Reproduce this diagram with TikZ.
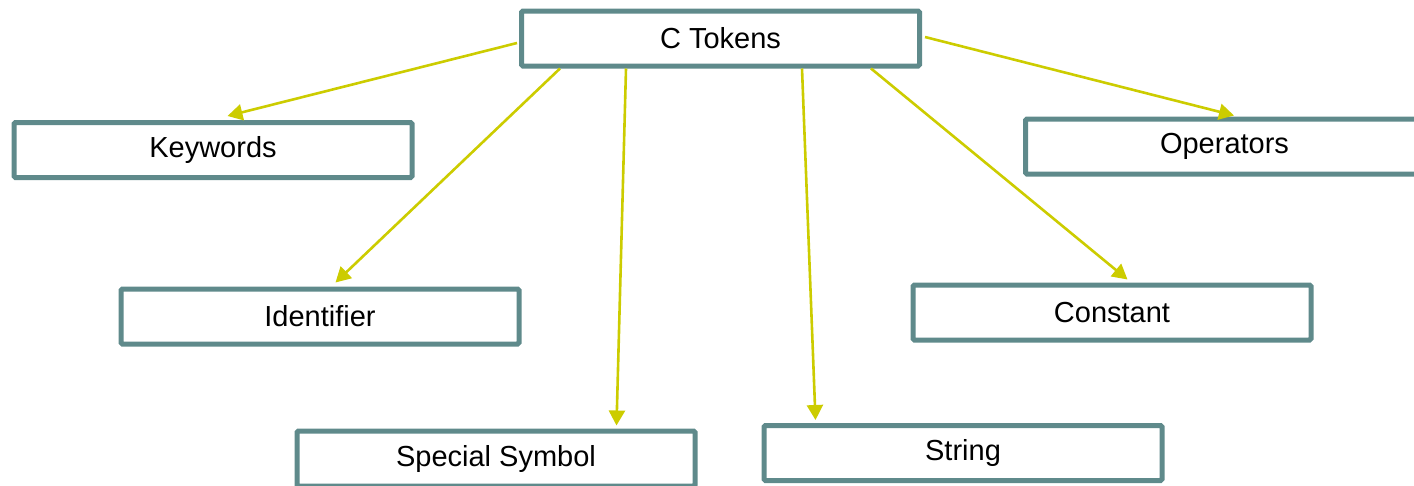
\documentclass[tikz,border=0pt]{standalone}
\usepackage{fontspec}
\setmainfont{Liberation Sans}
\usetikzlibrary{arrows.meta}
\definecolor{boxline}{HTML}{5F8A8B}
\definecolor{arrowcol}{HTML}{CCCC00}
\begin{document}
\begin{tikzpicture}[x=1pt,y=-1pt,
  tokbox/.style={draw=boxline, line width=5pt, fill=white, rounded corners=1.5pt,
    minimum width=398pt, minimum height=55pt, inner sep=0pt,
    font=\fontsize{29}{34}\selectfont},
  conn/.style={draw=arrowcol, line width=2.6pt, -{Triangle[length=15pt,width=16pt]}}]
\useasboundingbox (0,0) rectangle (1414,485);
\clip (0,0) rectangle (1414,485);
\node[tokbox] (ctok) at (720.5,38.5) {C Tokens};
\node[tokbox] (kw) at (213,150) {Keywords};
\node[tokbox] (op) at (1224.5,146.5) {Operators};
\node[tokbox] (id) at (320,316.5) {Identifier};
\node[tokbox] (cn) at (1112,312.5) {Constant};
\node[tokbox] (sp) at (496,458.5) {Special Symbol};
\node[tokbox] (st) at (963,453) {String};
\draw[conn] ([xshift=-2pt,yshift=-4.5pt]ctok.west) -- ([xshift=216pt,yshift=4pt]kw.north west);
\draw[conn] ([xshift=41pt]ctok.south west) -- ([xshift=217pt,yshift=4pt]id.north west);
\draw[conn] ([xshift=107pt]ctok.south west) -- ([xshift=322pt,yshift=3pt]sp.north west);
\draw[conn] ([xshift=283pt]ctok.south west) -- ([xshift=54pt,yshift=3pt]st.north west);
\draw[conn] ([xshift=352pt]ctok.south west) -- ([xshift=217pt,yshift=3pt]cn.north west);
\draw[conn] ([xshift=3pt,yshift=1.5pt]ctok.east) -- ([xshift=211pt,yshift=1pt]op.north west);
\end{tikzpicture}
\end{document}
